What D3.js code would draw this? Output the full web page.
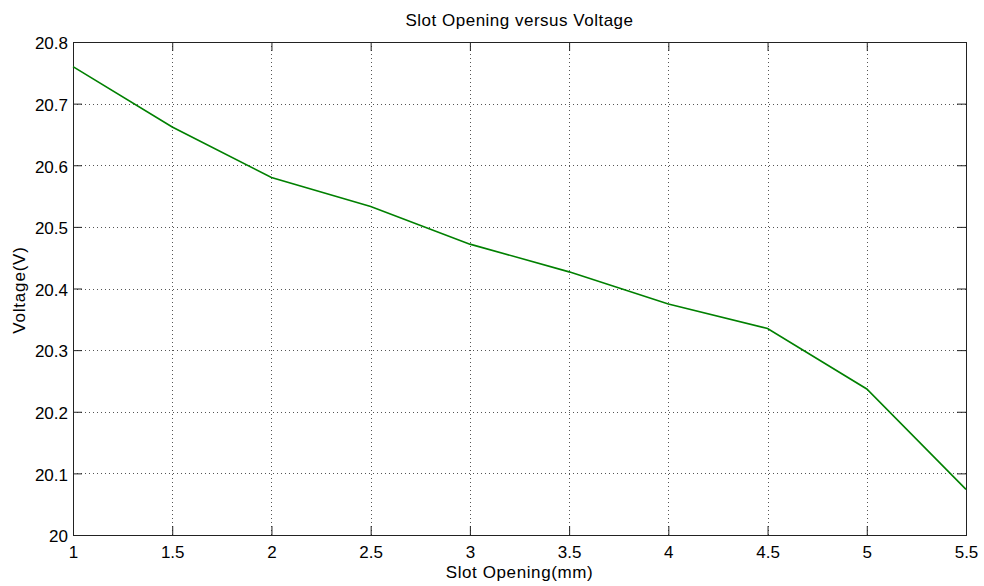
<!DOCTYPE html>
<html>
<head>
<meta charset="utf-8">
<script src="https://cdn.jsdelivr.net/npm/d3@7"></script>
<style>
  body { margin: 0; background: #fff; }
  text { font-family: "Liberation Sans", Arial, sans-serif; fill: #000; }
</style>
</head>
<body>
<svg id="chart" width="984" height="586"></svg>
<script>
// slot opening (mm) vs voltage (V)
var slotOpening = [1, 1.5, 2, 2.5, 3, 3.5, 4, 4.5, 5, 5.5];
var voltage = [20.76, 20.662, 20.58, 20.533, 20.472, 20.427, 20.375, 20.335, 20.237, 20.074];
var xTicks = [1, 1.5, 2, 2.5, 3, 3.5, 4, 4.5, 5, 5.5];
var yTicks = [20, 20.1, 20.2, 20.3, 20.4, 20.5, 20.6, 20.7, 20.8];

var svg = d3.select('#chart');
var pLeft = 73, pRight = 966, pTop = 42, pBottom = 535;

var x = d3.scaleLinear().domain([1, 5.5]).range([pLeft, pRight]);
var y = d3.scaleLinear().domain([20, 20.8]).range([pBottom, pTop]);

// grid
var grid = svg.append('g').attr('stroke', '#555').attr('stroke-width', 1)
  .attr('stroke-dasharray', '1,3').attr('shape-rendering', 'crispEdges');
grid.selectAll('.gx').data(xTicks.slice(1, -1)).enter().append('line')
  .attr('x1', function (d) { return Math.round(x(d)) + 0.5; })
  .attr('x2', function (d) { return Math.round(x(d)) + 0.5; })
  .attr('y1', pTop).attr('y2', pBottom);
grid.selectAll('.gy').data(yTicks.slice(1, -1)).enter().append('line')
  .attr('y1', function (d) { return Math.round(y(d)) + 0.5; })
  .attr('y2', function (d) { return Math.round(y(d)) + 0.5; })
  .attr('x1', pLeft).attr('x2', pRight);

// axes (inner ticks on all four sides)
var tick = 9;
svg.append('g').attr('transform', 'translate(0,' + pBottom + ')')
  .call(d3.axisBottom(x).tickValues(xTicks).tickSizeInner(-tick).tickSizeOuter(0).tickPadding(11).tickFormat(d3.format('')))
  .call(function (g) { g.select('.domain').remove(); });
svg.append('g').attr('transform', 'translate(0,' + pTop + ')')
  .call(d3.axisTop(x).tickValues(xTicks).tickSizeInner(-tick).tickSizeOuter(0).tickFormat(''))
  .call(function (g) { g.select('.domain').remove(); });
svg.append('g').attr('class', 'yaxis').attr('transform', 'translate(' + pLeft + ',0)')
  .call(d3.axisLeft(y).tickValues(yTicks).tickSizeInner(-tick).tickSizeOuter(0).tickPadding(5).tickFormat(d3.format('')))
  .call(function (g) { g.select('.domain').remove(); });
svg.append('g').attr('transform', 'translate(' + pRight + ',0)')
  .call(d3.axisRight(y).tickValues(yTicks).tickSizeInner(-tick).tickSizeOuter(0).tickFormat(''))
  .call(function (g) { g.select('.domain').remove(); });

svg.selectAll('.tick text').style('font-size', '17px')
  .style('font-family', '"Liberation Sans", Arial, sans-serif').attr('fill', '#000');
svg.selectAll('.yaxis .tick text').attr('dy', '0.4em');
svg.selectAll('.tick line').attr('stroke', '#222');

// frame
svg.append('rect').attr('x', pLeft + 0.5).attr('y', pTop + 0.5)
  .attr('width', pRight - pLeft).attr('height', pBottom - pTop)
  .attr('fill', 'none').attr('stroke', '#222').attr('stroke-width', 1);

// line
var line = d3.line()
  .x(function (d, i) { return x(slotOpening[i]); })
  .y(function (d) { return y(d); });
svg.append('path').datum(voltage).attr('d', line)
  .attr('fill', 'none').attr('stroke', '#008000').attr('stroke-width', 1.6);

// labels
svg.append('text').attr('x', (pLeft + pRight) / 2).attr('y', 26)
  .attr('text-anchor', 'middle').style('font-size', '17px').style('letter-spacing', '0.5px')
  .text('Slot Opening versus Voltage');
svg.append('text').attr('x', (pLeft + pRight) / 2).attr('y', 578)
  .attr('text-anchor', 'middle').style('font-size', '17px').style('letter-spacing', '0.6px')
  .text('Slot Opening(mm)');
svg.append('text').attr('transform', 'translate(25,290) rotate(-90)')
  .attr('text-anchor', 'middle').style('font-size', '17px').style('letter-spacing', '0.8px')
  .text('Voltage(V)');
</script>
</body>
</html>
